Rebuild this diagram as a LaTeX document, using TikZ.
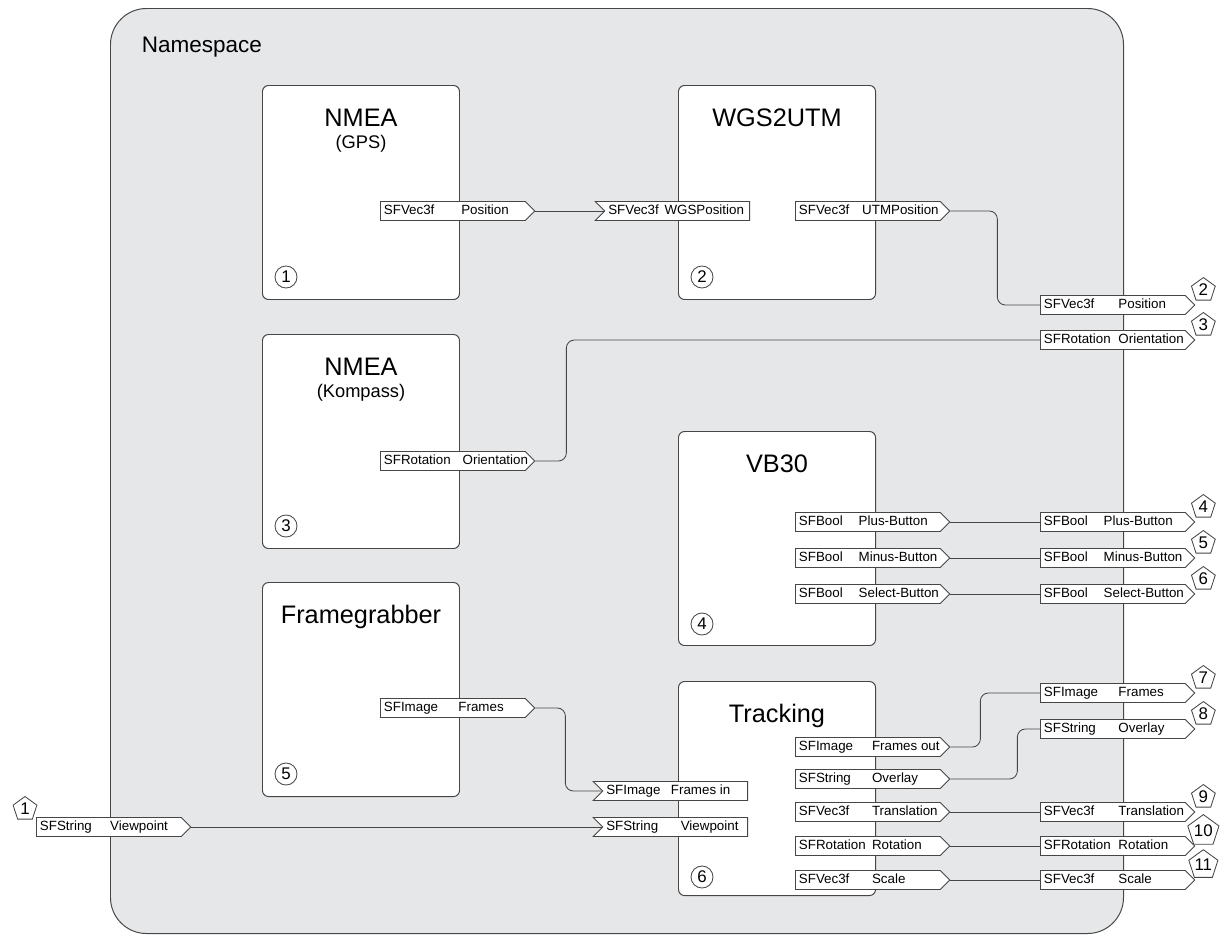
\documentclass[tikz,border=0pt]{standalone}
\usepackage{fontspec}
\setmainfont{Liberation Sans}
\usetikzlibrary{shapes.symbols,shapes.geometric}

\definecolor{nsgray}{RGB}{230,231,233}
\definecolor{edgegray}{RGB}{70,70,70}
\newdimen\pu \pu=0.025cm
% type column + field name, long names may run into the tip
\newcommand{\fld}[3][53pt]{\makebox[98pt][l]{\makebox[#1][l]{#2}#3}}

\begin{document}
\begin{tikzpicture}[x=0.025cm, y=0.025cm,
  namespace/.style={draw=edgegray, fill=nsgray, line width=0.7pt, rounded corners=36\pu,
    anchor=north west, minimum width=1013\pu, minimum height=925\pu, inner sep=0pt},
  module/.style={draw=edgegray, fill=white, line width=0.7pt, rounded corners=6\pu,
    anchor=north west, minimum width=197\pu, minimum height=214\pu, inner sep=0pt},
  title/.style={anchor=base, yshift=-41\pu, font=\fontsize{18}{20}\selectfont},
  subtitle/.style={anchor=base, yshift=-63\pu, font=\fontsize{13}{15}\selectfont},
  port/.style={signal, draw=edgegray, fill=white, line width=0.6pt,
    inner xsep=2.5pt, inner ysep=2pt, text height=7.2pt, text depth=2.3pt,
    font=\fontsize{9.5}{11}\selectfont},
  outport/.style={port, signal to=east, anchor=west},
  inport/.style={port, signal from=west, signal to=nowhere, anchor=east},
  modno/.style={circle, draw=edgegray, fill=white, line width=0.6pt, minimum size=22\pu,
    inner sep=0pt, font=\fontsize{12}{12}\selectfont},
  extno/.style={regular polygon, regular polygon sides=5, draw=edgegray, fill=white,
    line width=0.6pt, minimum size=25\pu, inner sep=0pt, font=\fontsize{12}{12}\selectfont},
  wire/.style={draw=edgegray, line width=0.6pt, rounded corners=8\pu}]

\useasboundingbox (0,0) rectangle (1220,-935);

% namespace
\node[namespace] (ns) at (110,-8) {};
\node[anchor=base west, font=\fontsize{16}{18}\selectfont] (nslabel) at (137,-52) {Namespace};

% modules
\node[module] (gps) at (262,-85) {};
\node[title] at (gps.north) {NMEA};
\node[subtitle] at (gps.north) {(GPS)};
\node[modno] (c1) at (286,-277) {1};

\node[module] (wgs) at (678,-85) {};
\node[title] at (wgs.north) {WGS2UTM};
\node[modno] (c2) at (702,-277) {2};

\node[module] (compass) at (262,-334) {};
\node[title] at (compass.north) {NMEA};
\node[subtitle] at (compass.north) {(Kompass)};
\node[modno] (c3) at (286,-526) {3};

\node[module] (vb) at (678,-431) {};
\node[title] at (vb.north) {VB30};
\node[modno] (c4) at (702,-624) {4};

\node[module] (grabber) at (262,-582) {};
\node[title] at (grabber.north) {Framegrabber};
\node[modno] (c5) at (286,-774) {5};

\node[module] (tracker) at (678,-681) {};
\node[title] at (tracker.north) {Tracking};
\node[modno] (c6) at (702,-877) {6};

% ports of the modules
\node[outport] (gpsPos) at (380,-211) {\fld[55pt]{SFVec3f}{Position}};
\node[inport] (wgsIn) at (750,-211) {\fld[40pt]{SFVec3f}{WGSPosition}};
\node[outport] (wgsOut) at (795,-211) {\fld[45pt]{SFVec3f}{UTMPosition}};
\node[outport] (cmpOri) at (380,-461) {\fld[56pt]{SFRotation}{Orientation}};
\node[outport] (vbPlus) at (795,-522) {\fld[42.5pt]{SFBool}{Plus-Button}};
\node[outport] (vbMinus) at (795,-558) {\fld[42.5pt]{SFBool}{Minus-Button}};
\node[outport] (vbSelect) at (795,-594) {\fld[42.5pt]{SFBool}{Select-Button}};
\node[outport] (grabFrames) at (380,-708) {\fld{SFImage}{Frames}};
\node[inport] (trkFramesIn) at (748,-791) {\fld[46pt]{SFImage}{Frames in}};
\node[inport] (trkViewIn) at (748,-827) {\fld{SFString}{Viewpoint}};
\node[outport] (trkFramesOut) at (795,-747) {\fld[52pt]{SFImage}{Frames out}};
\node[outport] (trkOverlay) at (795,-779) {\fld[52pt]{SFString}{Overlay}};
\node[outport] (trkTrans) at (795,-812) {\fld[52pt]{SFVec3f}{Translation}};
\node[outport] (trkRot) at (795,-846) {\fld[52pt]{SFRotation}{Rotation}};
\node[outport] (trkScale) at (795,-880) {\fld[52pt]{SFVec3f}{Scale}};

% exported fields
\node[outport] (nsView) at (36,-827) {\fld[50pt]{SFString}{Viewpoint}};
\node[outport] (nsPos) at (1040,-305) {\fld{SFVec3f}{Position}};
\node[outport] (nsOri) at (1040,-340) {\fld{SFRotation}{Orientation}};
\node[outport] (nsPlus) at (1040,-522) {\fld[42.5pt]{SFBool}{Plus-Button}};
\node[outport] (nsMinus) at (1040,-558) {\fld[42.5pt]{SFBool}{Minus-Button}};
\node[outport] (nsSelect) at (1040,-594) {\fld[42.5pt]{SFBool}{Select-Button}};
\node[outport] (nsFrames) at (1040,-693) {\fld{SFImage}{Frames}};
\node[outport] (nsOverlay) at (1040,-729) {\fld{SFString}{Overlay}};
\node[outport] (nsTrans) at (1040,-812) {\fld{SFVec3f}{Translation}};
\node[outport] (nsRot) at (1040,-846) {\fld{SFRotation}{Rotation}};
\node[outport] (nsScale) at (1040,-880) {\fld{SFVec3f}{Scale}};

% numbers of the exported fields
\node[extno, xshift=-11\pu, yshift=18\pu] (t1) at (nsView.west) {1};
\node[extno, xshift=8\pu, yshift=15\pu] (t2) at (nsPos.east) {2};
\node[extno, xshift=8\pu, yshift=15\pu] (t3) at (nsOri.east) {3};
\node[extno, xshift=8\pu, yshift=15\pu] (t4) at (nsPlus.east) {4};
\node[extno, xshift=8\pu, yshift=15\pu] (t5) at (nsMinus.east) {5};
\node[extno, xshift=8\pu, yshift=15\pu] (t6) at (nsSelect.east) {6};
\node[extno, xshift=8\pu, yshift=15\pu] (t7) at (nsFrames.east) {7};
\node[extno, xshift=8\pu, yshift=15\pu] (t8) at (nsOverlay.east) {8};
\node[extno, xshift=8\pu, yshift=15\pu] (t9) at (nsTrans.east) {9};
\node[extno, xshift=8\pu, yshift=15\pu] (t10) at (nsRot.east) {10};
\node[extno, xshift=8\pu, yshift=15\pu] (t11) at (nsScale.east) {11};

% routes
\draw[wire] (gpsPos.east) -- (wgsIn.west);
\draw[wire] (wgsOut.east) -- ++(47,0) |- (nsPos.west);
\draw[wire] (cmpOri.east) -- ++(31,0) |- (nsOri.west);
\draw[wire] (vbPlus.east) -- (nsPlus.west);
\draw[wire] (vbMinus.east) -- (nsMinus.west);
\draw[wire] (vbSelect.east) -- (nsSelect.west);
\draw[wire] (grabFrames.east) -- ++(30,0) |- (trkFramesIn.west);
\draw[wire] (nsView.east) -- (trkViewIn.west);
\draw[wire] (trkFramesOut.east) -- ++(30,0) |- (nsFrames.west);
\draw[wire] (trkOverlay.east) -- ++(67,0) |- (nsOverlay.west);
\draw[wire] (trkTrans.east) -- (nsTrans.west);
\draw[wire] (trkRot.east) -- (nsRot.west);
\draw[wire] (trkScale.east) -- (nsScale.west);

\end{tikzpicture}
\end{document}
